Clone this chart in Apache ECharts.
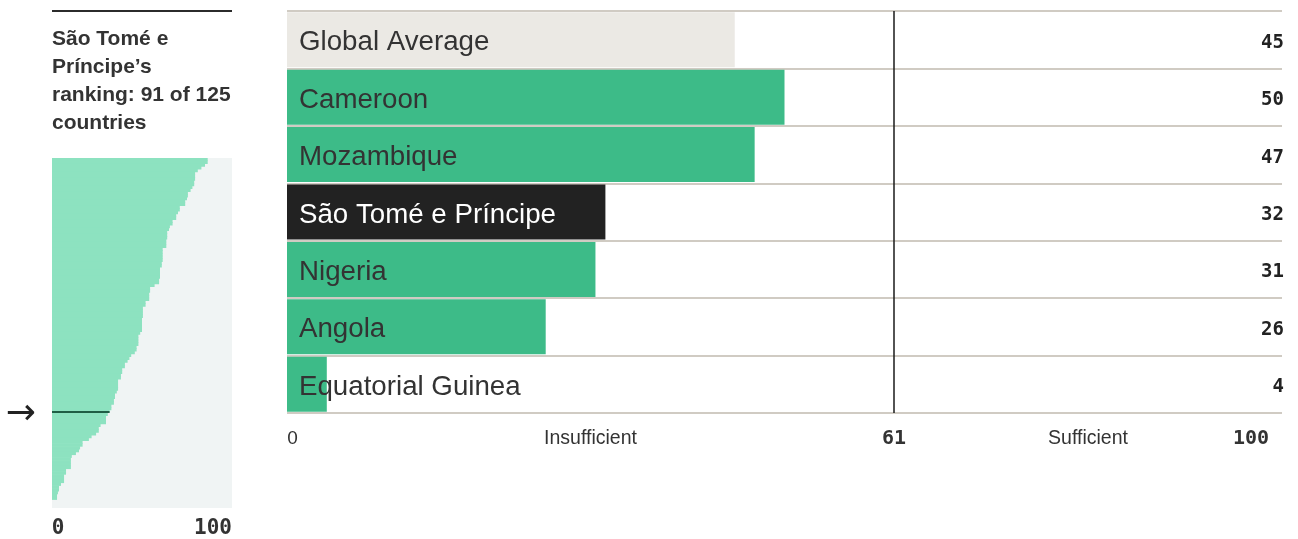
<!DOCTYPE html>
<html>
<head>
<meta charset="utf-8">
<script src="https://cdn.jsdelivr.net/npm/echarts@6/dist/echarts.min.js"></script>
<style>
  html, body { margin: 0; padding: 0; background: #fff; }
  #chart { width: 1298px; height: 539px; }
</style>
</head>
<body>
<div id="chart"></div>
<script>
// main comparison
const countries = ["Global Average", "Cameroon", "Mozambique", "São Tomé e Príncipe", "Nigeria", "Angola", "Equatorial Guinea"];
const scores = [45, 50, 47, 32, 31, 26, 4];
const threshold = 61;
const focusCountry = "São Tomé e Príncipe";

// ranking of all 125 countries, highest first
const rankScores = [
  86.5, 86.5, 85, 83, 81, 79.5, 79.5, 79.5, 79, 79,
  78, 77, 75.5, 75.5, 75, 74, 74, 71, 71, 70,
  69, 69, 67, 67, 65.5, 65, 64, 64, 64, 63.5,
  63.5, 63.5, 61.5, 61.5, 61.5, 61.5, 61.5, 61, 61, 60,
  60, 60, 60, 59.5, 59.5, 57, 54.5, 54.5, 54, 54,
  54, 52, 52, 50.5, 50.5, 50.5, 50.5, 50, 50, 50,
  50, 50, 49, 48, 48, 48, 48, 47, 47, 46,
  44, 43, 42, 40.5, 40.5, 39, 39, 38.3, 38.3, 36.7,
  36.7, 36.7, 36.7, 36, 35, 35, 34.4, 34.4, 33, 33,
  32, 31, 30, 30, 30, 27, 26, 26, 24.5, 22,
  20.5, 17, 17, 15.6, 15, 13.3, 11, 10.5, 10.5, 10.5,
  10.5, 7.8, 7.8, 6.7, 6.7, 6.7, 5, 3.9, 3.9, 3.3,
  2.8, 2.8, 0, 0, 0
];
const focusRank = 91;
const rankLabels = rankScores.map((v, i) => "#" + (i + 1));

const sans = "Liberation Sans, Arial, sans-serif";
const mono = "DejaVu Sans Mono, monospace";

function barColor(name) {
  if (name === "Global Average") return "#ebe9e4";
  if (name === focusCountry) return "#222222";
  return "#3dbb88";
}

const chart = echarts.init(document.getElementById("chart"));

const option = {
  animation: false,
  title: {
    text: "São Tomé e\nPríncipe’s\nranking: " + focusRank + " of " + rankScores.length + "\ncountries",
    left: 52,
    top: 25,
    padding: 0,
    textStyle: {
      fontFamily: sans,
      fontSize: 21,
      fontWeight: "bold",
      lineHeight: 28,
      color: "#333"
    }
  },
  graphic: [
    {
      type: "line",
      shape: { x1: 52, y1: 11, x2: 232, y2: 11 },
      style: { stroke: "#2b2b2b", lineWidth: 2 }
    }
  ],
  grid: [
    { left: 287, top: 11, width: 995, height: 402, outerBoundsMode: "none" },
    {
      left: 52, top: 158, width: 180, height: 350, outerBoundsMode: "none",
      show: true, backgroundColor: "#f0f4f4", borderWidth: 0
    }
  ],
  xAxis: [
    {
      gridIndex: 0,
      type: "value",
      min: 0,
      max: 100,
      axisLine: { show: false },
      axisTick: { show: false },
      splitLine: { show: false },
      axisLabel: {
        customValues: [0, threshold / 2, threshold, (threshold + 100) / 2, 100],
        margin: 16,
        formatter: function (v) {
          if (v === 0) return "{zero|0}";
          if (v === threshold) return "{num|" + v + "}";
          if (v === 100) return "{hund|100}";
          return v < threshold ? "{word|Insufficient}" : "{word|Sufficient}";
        },
        rich: {
          zero: { fontFamily: sans, fontSize: 19, color: "#333", padding: [0, 0, 0, 11] },
          word: { fontFamily: sans, fontSize: 19.5, color: "#333" },
          num: { fontFamily: mono, fontSize: 20, fontWeight: "bold", color: "#333" },
          hund: { fontFamily: mono, fontSize: 20, fontWeight: "bold", color: "#333", padding: [0, 62, 0, 0] }
        }
      }
    },
    {
      gridIndex: 1,
      type: "value",
      min: 0,
      max: 100,
      axisLine: { show: false },
      axisTick: { show: false },
      splitLine: { show: false },
      axisLabel: {
        customValues: [0, 100],
        margin: 10,
        formatter: function (v) {
          return v === 0 ? "{lo|0}" : "{hi|100}";
        },
        rich: {
          lo: { fontFamily: mono, fontSize: 21, fontWeight: "bold", color: "#333", padding: [0, 0, 0, 12] },
          hi: { fontFamily: mono, fontSize: 21, fontWeight: "bold", color: "#333", padding: [0, 38, 0, 0] }
        }
      }
    }
  ],
  yAxis: [
    {
      gridIndex: 0,
      type: "category",
      data: countries,
      inverse: true,
      axisLine: { show: false },
      axisTick: { show: false },
      axisLabel: { show: false },
      splitLine: { show: true, lineStyle: { color: "#d0cbc3", width: 2 } }
    },
    {
      gridIndex: 0,
      type: "category",
      data: scores.map(String),
      inverse: true,
      position: "right",
      z: 10,
      axisLine: { show: false },
      axisTick: { show: false },
      splitLine: { show: false },
      axisLabel: {
        inside: true,
        margin: -2,
        formatter: function (v) { return "{v|" + v + "}"; },
        rich: {
          v: { fontFamily: mono, fontSize: 19, fontWeight: "bold", color: "#222", padding: [6, 0, 0, 0] }
        }
      }
    },
    {
      gridIndex: 1,
      type: "category",
      data: rankLabels,
      inverse: true,
      axisLine: { show: false },
      axisTick: { show: false },
      splitLine: { show: false },
      axisLabel: {
        interval: 0,
        margin: 16,
        formatter: function (v, i) {
          return i === focusRank - 1 ? "{a|→}" : "";
        },
        rich: {
          a: { fontFamily: "DejaVu Sans, sans-serif", fontSize: 36, color: "#222", padding: [6, 0, 0, 0] }
        }
      }
    }
  ],
  series: [
    {
      type: "bar",
      xAxisIndex: 0,
      yAxisIndex: 0,
      barWidth: 55,
      data: countries.map((c, i) => ({
        value: scores[i],
        itemStyle: { color: barColor(c) }
      })),
      label: {
        show: true,
        position: "insideLeft",
        distance: 12,
        offset: [0, 3],
        formatter: function (p) {
          return p.name === focusCountry ? "{w|" + p.name + "}" : "{d|" + p.name + "}";
        },
        rich: {
          d: { fontFamily: sans, fontSize: 27.7, color: "#333" },
          w: { fontFamily: sans, fontSize: 27.7, color: "#fff" }
        }
      },
      markLine: {
        silent: true,
        symbol: "none",
        label: { show: false },
        lineStyle: { color: "#1a1a1a", width: 1.5, type: "solid" },
        data: [{ xAxis: threshold }]
      }
    },
    {
      type: "bar",
      xAxisIndex: 1,
      yAxisIndex: 2,
      barWidth: 3.4,
      itemStyle: { color: "#8de2c0" },
      data: rankScores,
      markLine: {
        silent: true,
        symbol: "none",
        label: { show: false },
        lineStyle: { color: "#1f5e45", width: 2, type: "solid" },
        data: [[
          { coord: [0, focusRank - 1] },
          { coord: [rankScores[focusRank - 1], focusRank - 1] }
        ]]
      }
    }
  ]
};

chart.setOption(option);
</script>
</body>
</html>
